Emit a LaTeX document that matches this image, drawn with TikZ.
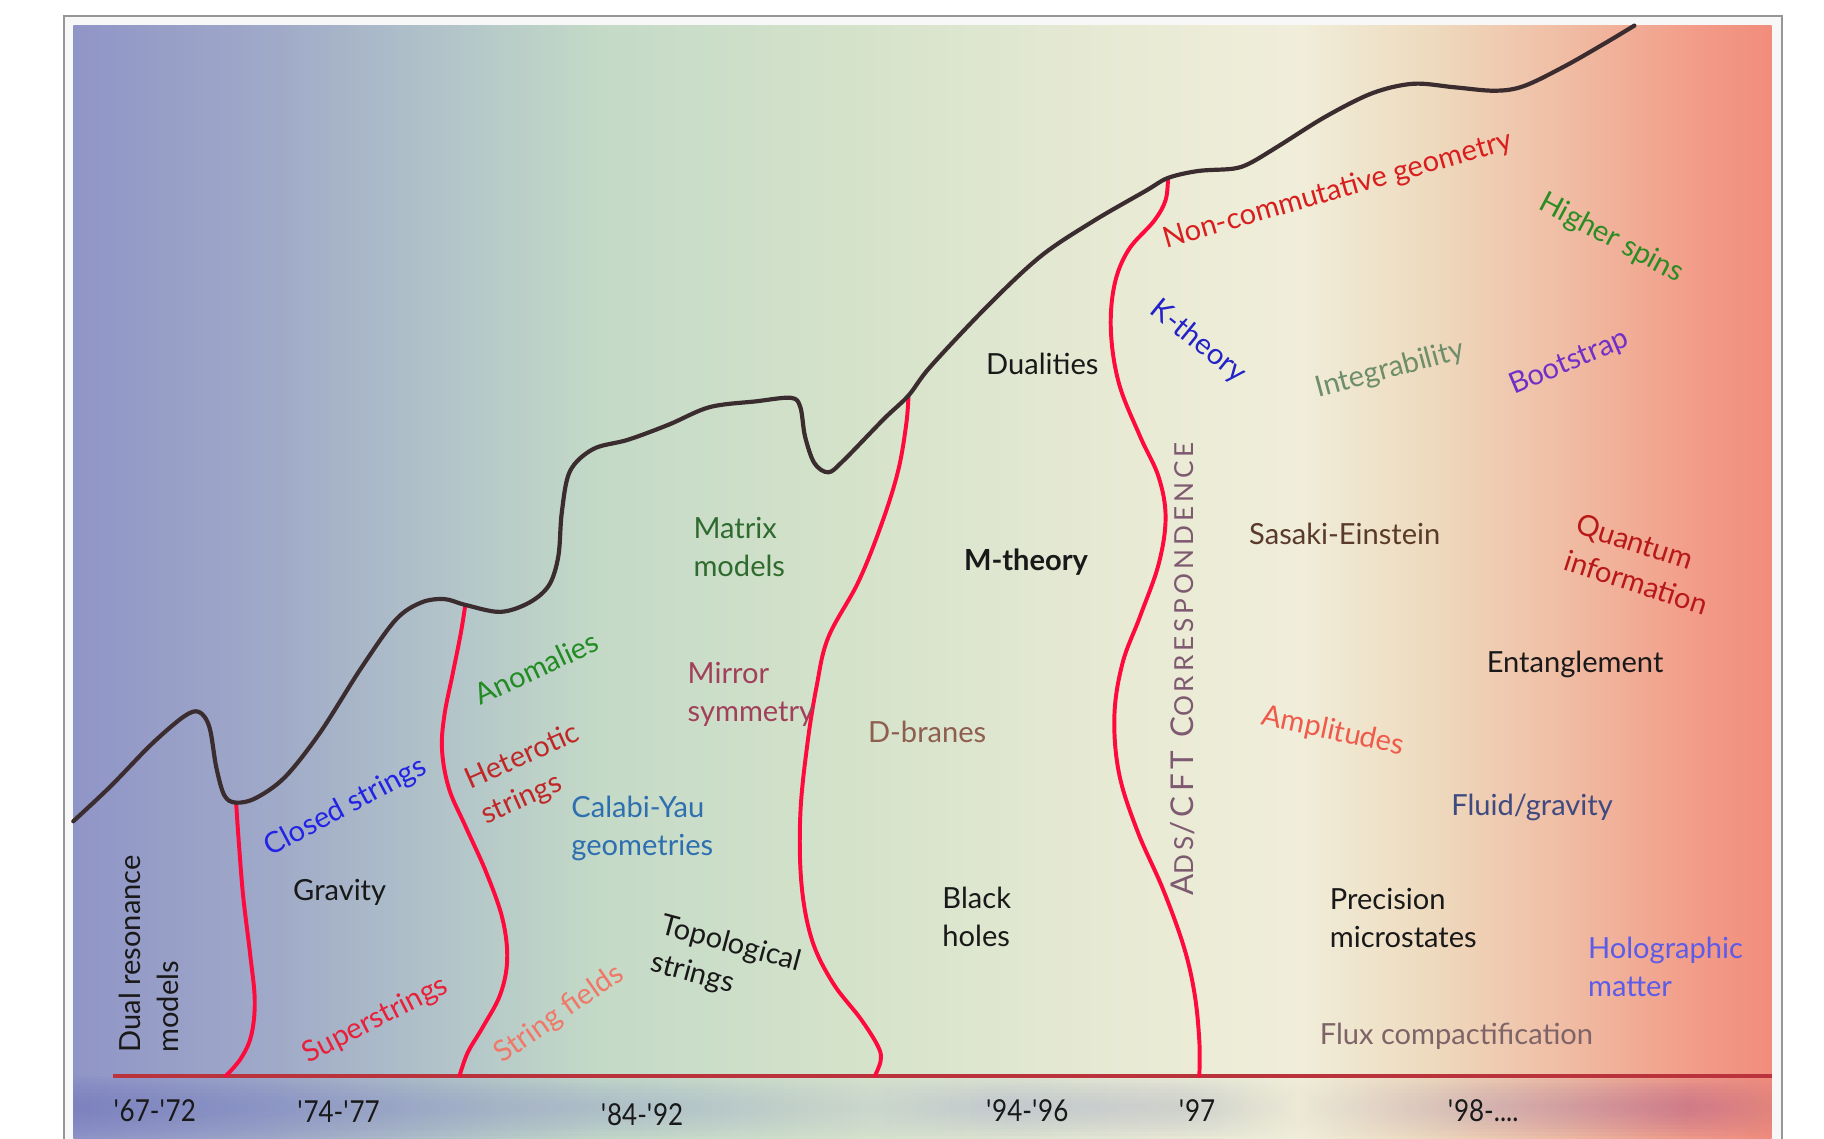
\documentclass[tikz,border=0pt]{standalone}
\usepackage{fontspec}
\setmainfont{Lato}
\newfontfamily\yearfont[FakeStretch=0.86]{Lato}
\newfontfamily\adsfont[LetterSpace=15]{Lato}
% background gradient colours
\definecolor{g0}{RGB}{144,149,199}
\definecolor{g1}{RGB}{160,170,200}
\definecolor{g2}{RGB}{178,196,201}
\definecolor{g3}{RGB}{196,218,199}
\definecolor{g4}{RGB}{212,226,202}
\definecolor{g5}{RGB}{232,234,212}
\definecolor{g6}{RGB}{240,238,218}
\definecolor{g7}{RGB}{238,218,190}
\definecolor{g8}{RGB}{240,188,163}
\definecolor{g9}{RGB}{242,158,138}
\definecolor{g10}{RGB}{242,140,124}
% bottom band colours
\definecolor{k0}{RGB}{120,125,190}
\definecolor{k1}{RGB}{132,140,196}
\definecolor{k2}{RGB}{160,172,198}
\definecolor{k3}{RGB}{172,188,200}
\definecolor{k4}{RGB}{200,212,204}
\definecolor{k5}{RGB}{186,192,206}
\definecolor{k6}{RGB}{200,203,204}
\definecolor{k7}{RGB}{236,234,214}
\definecolor{k8}{RGB}{204,172,176}
\definecolor{k9}{RGB}{196,112,136}
\definecolor{k10}{RGB}{222,130,128}
\pgfdeclarehorizontalshading{bgshade}{100bp}{color(0bp)=(g0); color(25bp)=(g0); color(31bp)=(g1); color(36bp)=(g2); color(40.5bp)=(g3); color(47.5bp)=(g4); color(56bp)=(g5); color(61bp)=(g6); color(65bp)=(g7); color(69bp)=(g8); color(72.5bp)=(g9); color(75bp)=(g10); color(100bp)=(g10)}
\pgfdeclarehorizontalshading{bandshade}{100bp}{color(0bp)=(k0); color(25bp)=(k0); color(30bp)=(k1); color(37.5bp)=(k2); color(42.5bp)=(k3); color(48.5bp)=(k4); color(52.5bp)=(k5); color(58bp)=(k6); color(61bp)=(k7); color(66.5bp)=(k8); color(72.5bp)=(k9); color(75bp)=(k10); color(100bp)=(k10)}
% line and text colours
\definecolor{ridgecol}{RGB}{59,45,47}
\definecolor{eracol}{RGB}{255,10,60}
\definecolor{axiscol}{RGB}{185,50,60}
\definecolor{framegray}{RGB}{150,150,150}
\definecolor{framefill}{RGB}{247,247,247}
\definecolor{txtblack}{RGB}{25,25,25}
\definecolor{cClosed}{RGB}{35,35,230}
\definecolor{cSuper}{RGB}{232,32,58}
\definecolor{cAnom}{RGB}{34,139,34}
\definecolor{cHet}{RGB}{192,40,40}
\definecolor{cCY}{RGB}{46,111,176}
\definecolor{cSF}{RGB}{240,120,104}
\definecolor{cMatrix}{RGB}{47,107,47}
\definecolor{cMirror}{RGB}{160,64,90}
\definecolor{cDbr}{RGB}{142,94,78}
\definecolor{cAds}{RGB}{126,90,112}
\definecolor{cNC}{RGB}{216,30,30}
\definecolor{cHS}{RGB}{42,140,34}
\definecolor{cK}{RGB}{34,34,200}
\definecolor{cInt}{RGB}{110,142,106}
\definecolor{cBoot}{RGB}{112,48,200}
\definecolor{cSas}{RGB}{90,58,42}
\definecolor{cQI}{RGB}{184,24,24}
\definecolor{cAmp}{RGB}{240,90,74}
\definecolor{cFluid}{RGB}{62,74,128}
\definecolor{cHolo}{RGB}{92,92,232}
\definecolor{cFlux}{RGB}{126,100,104}
\tikzset{
  ridge/.style={draw=ridgecol, line width=3.6pt, line cap=round, line join=round},
  eraline/.style={draw=eracol, line width=3.4pt, line cap=round},
  lbl/.style={inner sep=0pt, font=\fontsize{25}{33}\selectfont, text=txtblack, align=center},
  lbll/.style={lbl, align=left, anchor=west},
  yr/.style={inner sep=0pt, font=\yearfont\fontsize{26}{30}\selectfont, text=txtblack}
}
\newcommand\smallcapsA[1]{{\fontsize{22.5}{22.5}\selectfont #1}}
\begin{document}
\begin{tikzpicture}[x=1pt,y=-1pt]
\path[use as bounding box] (0,0) rectangle (1568,979);
\fill[white] (0,0) rectangle (1568,979);
\fill[framefill] (55,14) rectangle (1532,979);
\draw[framegray, line width=1.4pt] (55,979) -- (55,14) -- (1532,14) -- (1532,979);
\shade[shading=bgshade] (63,22) rectangle (1523,979);
% blurred band behind the years
\foreach \h in {3,6,...,27}
  \shade[shading=bandshade, fill opacity=0.12] (63,{952-\h}) rectangle (1523,{952+\h});
% time axis
\coordinate (axL) at (97,925);
\coordinate (axR) at (1523,925);
\draw[axiscol, line width=3.5pt] (axL) -- (axR);
% junctions of era lines with ridge and axis
\coordinate (j1) at (203,690);
\coordinate (j2) at (400,520);
\coordinate (j3) at (781,340);
\coordinate (j4) at (1004,153);
\coordinate (b1) at (194,925);
\coordinate (b2) at (395,925);
\coordinate (b3) at (752,925);
\coordinate (b4) at (1031,925);
% era boundaries
\draw[eraline] plot[smooth, tension=0.6] coordinates {(j1) (205,720) (209,770) (215,820) (219,860) (216,890) (207,910) (b1)};
\draw[eraline] plot[smooth, tension=0.6] coordinates {(j2) (396,545) (389,580) (382,615) (380,645) (386,678) (400,710) (418,750) (432,790) (436,825) (430,855) (415,883) (402,905) (b2)};
\draw[eraline] plot[smooth, tension=0.6] coordinates {(j3) (779,365) (772,405) (758,450) (738,500) (712,548) (702,590) (694,640) (688,700) (689,760) (698,808) (716,845) (740,876) (755,900) (757,912) (b3)};
\draw[eraline] plot[smooth, tension=0.6] coordinates {(j4) (1002,172) (992,190) (970,215) (958,245) (955,285) (962,330) (980,375) (996,410) (1002,445) (996,485) (980,530) (965,570) (958,615) (962,665) (978,715) (1000,765) (1018,815) (1027,855) (1031,895) (b4)};
% ridge
\draw[ridge] plot[smooth, tension=0.55] coordinates {(63,706) (95,676) (130,640) (158,616) (171,612) (180,625) (186,660) (193,684) (j1) (220,686) (245,668) (275,630) (310,575) (340,533) (362,518) (382,515) (j2) (430,526) (455,518) (472,503) (480,478) (483,440) (490,405) (510,386) (540,378) (575,365) (610,350) (650,345) (680,342) (688,350) (692,375) (700,398) (712,406) (725,396) (760,360) (j3) (800,315) (850,262) (895,220) (940,190) (985,164) (j4) (1030,147) (1060,145) (1075,140) (1100,125) (1140,100) (1180,80) (1215,72) (1250,75) (1285,78) (1310,74) (1345,57) (1380,37) (1405,22)};
% years
\node[yr] (y1) at (133,955) {\textquotesingle 67-\textquotesingle 72};
\node[yr] (y2) at (291,956) {\textquotesingle 74-\textquotesingle 77};
\node[yr] (y3) at (552,958) {\textquotesingle 84-\textquotesingle 92};
\node[yr] (y4) at (883,955) {\textquotesingle 94-\textquotesingle 96};
\node[yr] (y5) at (1029,955) {\textquotesingle 97};
\node[yr] (y6) at (1275,955) {\textquotesingle 98-....};
% topics
\node[lbl, rotate=90, align=left, anchor=west] (dual) at (128,905) {Dual resonance\\models};
\node[lbl, text=cClosed, rotate=28] (closed) at (297,694) {Closed strings};
\node[lbl] (grav) at (292,767) {Gravity};
\node[lbl, text=cSuper, rotate=27] (super) at (323,877) {Superstrings};
\node[lbl, text=cAnom, rotate=25] (anom) at (461,574) {Anomalies};
\node[lbl, text=cHet, rotate=24, align=left] (het) at (456,666) {Heterotic\\strings};
\node[lbll, text=cCY] (cy) at (491,712) {Calabi-Yau\\geometries};
\node[lbl, text=cSF, rotate=35] (sf) at (481,872) {String fields};
\node[lbll, text=cMatrix] (matrix) at (596,470) {Matrix\\models};
\node[lbll, text=cMirror] (mirror) at (591,597) {Mirror\\symmetry};
\node[lbl, rotate=-15, align=left] (topo) at (624,828) {Topological\\strings};
\node[lbl, text=cDbr] (dbr) at (797,629) {D-branes};
\node[lbll] (bh) at (810,788) {Black\\holes};
\node[lbl, font=\fontsize{25}{33}\selectfont\bfseries] (mth) at (882,483) {M-theory};
\node[lbl] (dual2) at (896,313) {Dualities};
\node[inner sep=0pt, rotate=90, text=cAds, font=\adsfont\fontsize{27}{27}\selectfont] (ads) at (1017,575) {A\smallcapsA{DS}/CFT C\smallcapsA{ORRESPONDENCE}};
\node[lbl, text=cNC, rotate=16] (nc) at (1150,164) {Non-commutative geometry};
\node[lbl, text=cHS, rotate=-28] (hs) at (1385,205) {Higher spins};
\node[lbl, text=cK, rotate=-39] (kth) at (1030,294) {K-theory};
\node[lbl, text=cInt, rotate=15] (integ) at (1195,318) {Integrability};
\node[lbl, text=cBoot, rotate=23] (boot) at (1349,312) {Bootstrap};
\node[lbl, text=cSas] (sas) at (1156,459) {Sasaki-Einstein};
\node[lbl, text=cQI, rotate=-18, align=left] (qi) at (1412,485) {Quantum\\information};
\node[lbl] (ent) at (1354,571) {Entanglement};
\node[lbl, text=cAmp, rotate=-12] (amp) at (1146,629) {Amplitudes};
\node[lbl, text=cFluid] (fluid) at (1317,694) {Fluid/gravity};
\node[lbll] (prec) at (1143,789) {Precision\\microstates};
\node[lbll, text=cHolo] (holo) at (1365,831) {Holographic\\matter};
\node[lbl, text=cFlux] (flux) at (1252,891) {Flux compactification};
\end{tikzpicture}
\end{document}
